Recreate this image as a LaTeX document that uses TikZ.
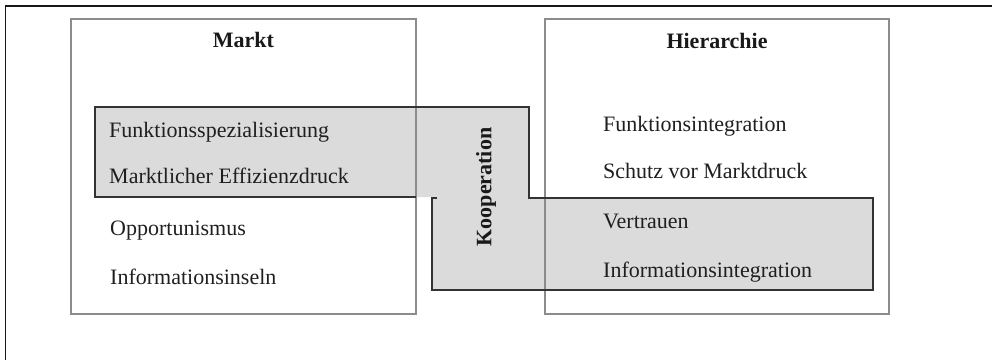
\documentclass[tikz,border=0pt]{standalone}
\usepackage{fontspec}
\setmainfont{Liberation Serif}
\begin{document}
\begin{tikzpicture}[x=1pt,y=-1pt,
  frameline/.style={draw=black!90,line width=1.4pt},
  areabox/.style={draw=black!45,line width=1.1pt},
  coopfill/.style={fill=black!14},
  coopline/.style={draw=black!80,line width=1.2pt},
  txt/.style={anchor=base west,inner sep=0pt,text=black!88,font=\fontsize{22}{26}\selectfont},
  head/.style={anchor=base,inner sep=0pt,text=black!90,font=\fontsize{22}{26}\selectfont\bfseries}]
\useasboundingbox (0,0) rectangle (992,360);

% outer frame (top and left edges)
\coordinate (fTL) at (5.5,6);
\coordinate (fR) at (992,6);
\coordinate (fB) at (5.5,360);
\draw[frameline] (fB) -- (fTL) -- (fR);

% shaded cooperation zone
\coordinate (c1) at (95,107);
\coordinate (c2) at (529,107);
\coordinate (c3) at (529,198);
\coordinate (c4) at (873,198);
\coordinate (c5) at (873,290);
\coordinate (c6) at (432,290);
\coordinate (c7) at (432,198);
\coordinate (c7b) at (437,198);
\coordinate (c8) at (432,197);
\coordinate (c9) at (95,197);
\coordinate (c10) at (416,197);
\fill[coopfill] (c1) -- (c2) -- (c3) -- (c4) -- (c5) -- (c6) -- (c8) -- (c9) -- cycle;

% the two area boxes
\node[areabox,minimum width=345pt,minimum height=295pt,inner sep=0pt] (markt) at (243.5,166.5) {};
\node[areabox,minimum width=344pt,minimum height=295pt,inner sep=0pt] (hier) at (717,166.5) {};

% outline of the cooperation zone
\draw[coopline] (c10) -- (c9) -- (c1) -- (c2) -- (c3) -- (c4) -- (c5) -- (c6) -- (c7) -- (c7b);

% headings
\node[head] (tMarkt) at (243.5,47) {Markt};
\node[head] (tHier) at (717,48) {Hierarchie};
\node[head,anchor=center,rotate=90] (tKoop) at (486,187) {Kooperation};

% market column
\node[txt] (m1) at (109,137) {Funktionsspezialisierung};
\node[txt] (m2) at (109,183) {Marktlicher Effizienzdruck};
\node[txt] (m3) at (110,235) {Opportunismus};
\node[txt] (m4) at (110,284) {Informationsinseln};

% hierarchy column
\node[txt] (h1) at (603,131) {Funktionsintegration};
\node[txt] (h2) at (603,178) {Schutz vor Marktdruck};
\node[txt] (h3) at (603,228) {Vertrauen};
\node[txt] (h4) at (603,277) {Informationsintegration};
\end{tikzpicture}
\end{document}
